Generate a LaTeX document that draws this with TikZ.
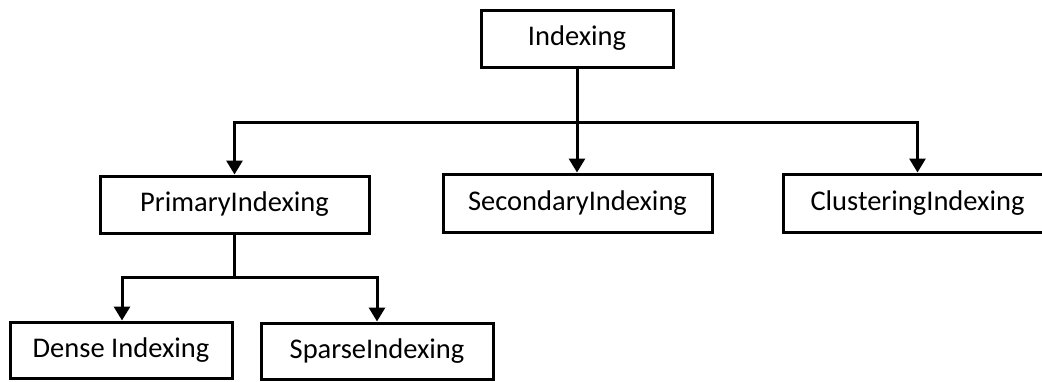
\documentclass[tikz,border=0pt]{standalone}
\usepackage{fontspec}
\setmainfont{Carlito}
\usetikzlibrary{arrows.meta}
\begin{document}
\begin{tikzpicture}[x=1pt,y=-1pt,
  box/.style={draw=black,line width=3pt,fill=white,minimum height=57pt,inner sep=0pt,font=\fontsize{28.5}{31}\selectfont},
  conn/.style={draw=black,line width=3pt},
  arr/.style={conn,-{Triangle[length=14pt,width=16pt]}}]
\useasboundingbox[fill=white] (0,0) rectangle (1042,381);
\begin{scope}
\clip (0,0) rectangle (1042,381);
\node[box,minimum width=192pt] (root) at (577,38.5) {Indexing};
\node[box,minimum width=269pt] (prim) at (234.5,204.5) {PrimaryIndexing};
\node[box,minimum width=269pt,minimum height=58pt] (sec) at (577.5,203) {SecondaryIndexing};
\node[box,minimum width=269pt,minimum height=58pt] (clu) at (917.5,203) {ClusteringIndexing};
\node[box,minimum width=222pt,minimum height=56pt] (dense) at (121,350) {Dense Indexing};
\node[box,minimum width=232pt,minimum height=56pt] (sparse) at (377,351) {SparseIndexing};
\coordinate (j1) at (577,122);
\coordinate (j2) at (234.5,277);
\draw[conn] (root.south) -- (j1);
\draw[arr] (j1) -| (prim.north);
\draw[arr] (j1) -- (j1 |- sec.north);
\draw[arr] (j1) -| (clu.north);
\draw[conn] (prim.south) -- (j2);
\draw[arr] (j2) -| ([xshift=1pt]dense.north);
\draw[arr] (j2) -| (sparse.north);
\end{scope}
\end{tikzpicture}
\end{document}
